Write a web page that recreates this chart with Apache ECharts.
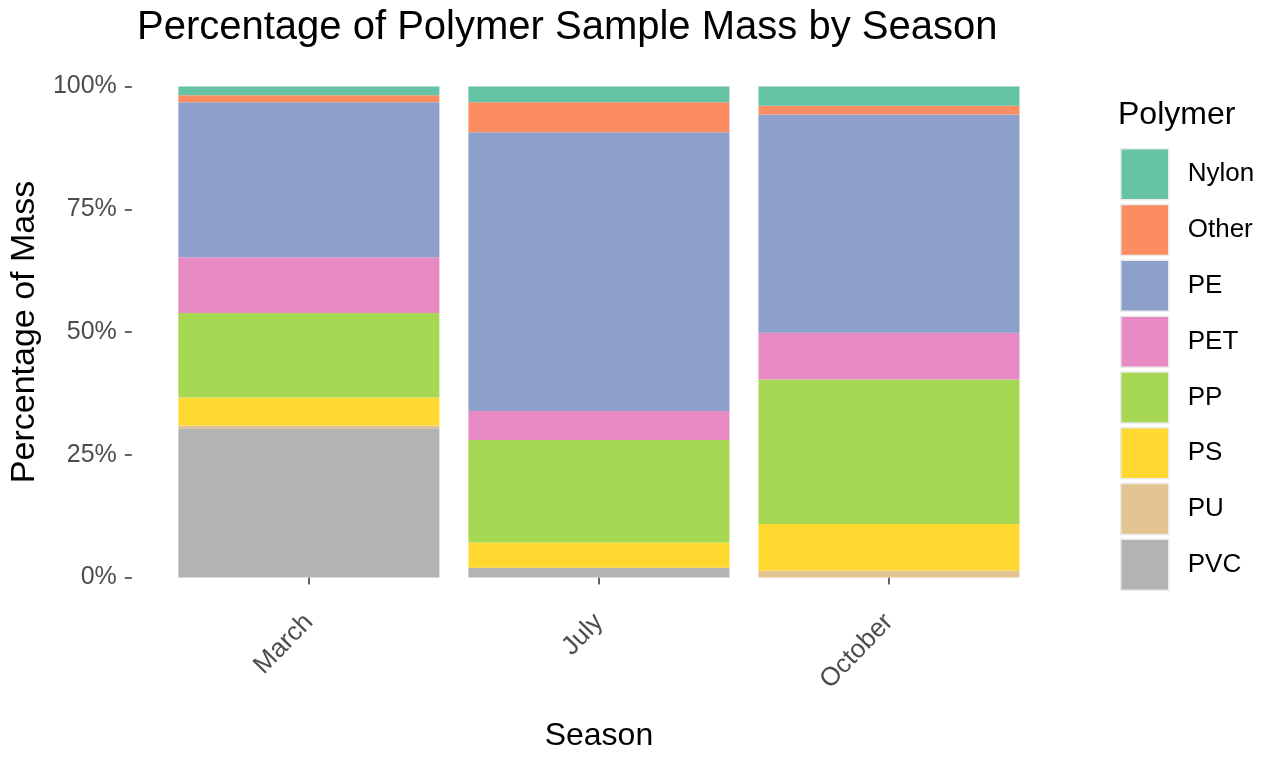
<!DOCTYPE html>
<html>
<head>
<meta charset="utf-8">
<script src="https://cdn.jsdelivr.net/npm/echarts@6/dist/echarts.min.js"></script>
<style>
html,body{margin:0;padding:0;background:#fff;}
#chart{width:1263px;height:757px;}
</style>
</head>
<body>
<div id="chart"></div>
<script>
const seasons = ['March', 'July', 'October'];
const polymers = ['Nylon', 'Other', 'PE', 'PET', 'PP', 'PS', 'PU', 'PVC'];
const nylon = [1.8, 3.2, 3.9];
const other = [1.4, 6.1, 1.8];
const pe    = [31.6, 56.8, 44.4];
const pet   = [11.4, 5.9, 9.5];
const pp    = [17.2, 20.9, 29.4];
const ps    = [5.7, 5.1, 9.5];
const pu    = [0.6, 0.0, 1.4];
const pvc   = [30.4, 2.0, 0.0];
const yTicks = [0, 25, 50, 75, 100];

const colors = {
  Nylon: '#66C2A5', Other: '#FC8D62', PE: '#8DA0CB', PET: '#E78AC3',
  PP: '#A6D854', PS: '#FFD92F', PU: '#E5C494', PVC: '#B3B3B3'
};
const valuesByName = {Nylon: nylon, Other: other, PE: pe, PET: pet, PP: pp, PS: ps, PU: pu, PVC: pvc};
// position = "fill": normalise each season to 100%
const totals = seasons.map((s, i) => polymers.reduce((a, p) => a + valuesByName[p][i], 0));
const stackOrder = polymers.slice().reverse(); // PVC at bottom, Nylon on top

const FONT = '"Liberation Sans", Arial, sans-serif';
const chart = echarts.init(document.getElementById('chart'), null, {renderer: 'canvas'});
chart.setOption({
  animation: false,
  backgroundColor: '#fff',
  textStyle: {fontFamily: FONT},
  title: [{
    text: 'Percentage of Polymer Sample Mass by Season',
    left: 132, top: 3,
    textStyle: {fontSize: 40, fontWeight: 'normal', color: '#000', fontFamily: FONT}
  }, {
    text: 'Polymer',
    left: 1113, top: 94,
    textStyle: {fontSize: 32, fontWeight: 'normal', color: '#000', fontFamily: FONT}
  }],
  legend: {
    orient: 'vertical',
    left: 1115, top: 143,
    data: polymers,
    itemWidth: 48, itemHeight: 51,
    itemGap: 3.3,
    icon: 'rect',
    selectedMode: false,
    itemStyle: {borderColor: '#ebebeb', borderWidth: 1.5},
    textStyle: {fontSize: 26, color: '#000', padding: [0, 0, 0, 14], fontFamily: FONT}
  },
  grid: {left: 162, right: 229, top: 62, bottom: 152, containLabel: false},
  xAxis: {
    type: 'category',
    data: seasons,
    name: 'Season',
    nameLocation: 'middle',
    nameGap: 118,
    nameTextStyle: {fontSize: 32, color: '#000', fontFamily: FONT},
    axisLine: {show: false},
    axisTick: {show: true, alignWithLabel: true, length: 7, lineStyle: {color: '#333', width: 1.5}},
    axisLabel: {rotate: 46, margin: 16, fontSize: 26, color: '#4d4d4d', fontFamily: FONT},
    splitLine: {show: false}
  },
  yAxis: {
    type: 'value',
    min: -5, max: 105,
    offset: 32,
    name: 'Percentage of Mass',
    nameLocation: 'middle',
    nameGap: 88,
    nameRotate: 90,
    nameTextStyle: {fontSize: 34, color: '#000', fontFamily: FONT},
    axisLine: {show: false},
    axisTick: {show: true, length: 7, customValues: yTicks, lineStyle: {color: '#333', width: 1.5}},
    axisLabel: {
      margin: 15, fontSize: 25, color: '#4d4d4d', fontFamily: FONT,
      customValues: yTicks,
      formatter: v => v + '%'
    },
    splitLine: {show: false}
  },
  series: stackOrder.map(name => ({
    name: name,
    type: 'bar',
    stack: 'total',
    barWidth: '90%',
    itemStyle: {color: colors[name]},
    data: valuesByName[name].map((v, i) => v / totals[i] * 100)
  }))
});
</script>
</body>
</html>
